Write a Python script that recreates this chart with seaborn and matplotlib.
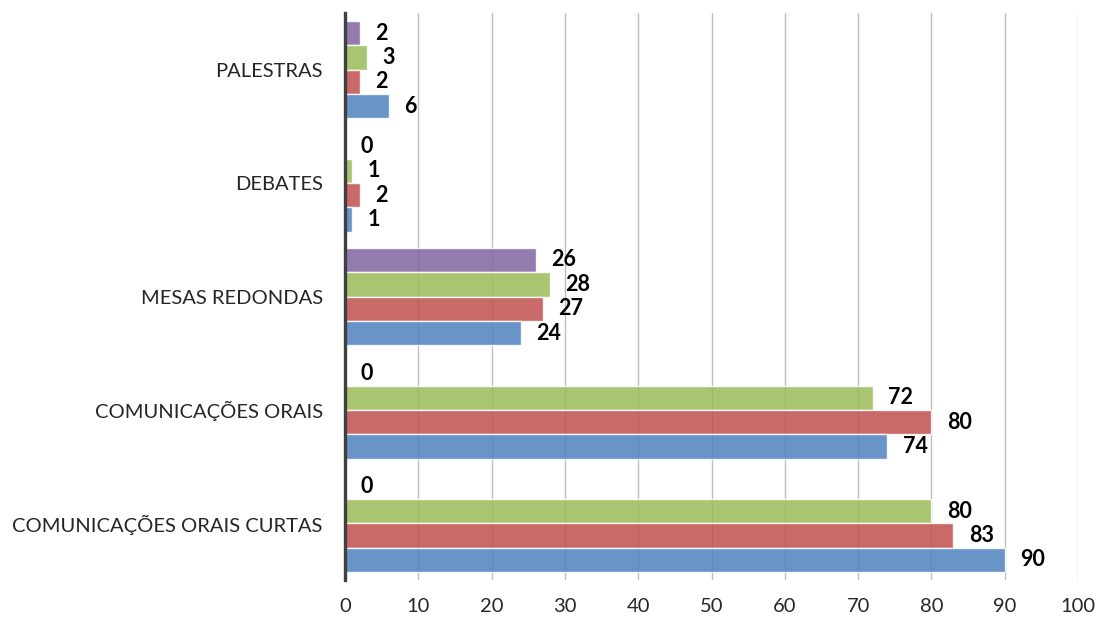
import matplotlib
matplotlib.use("Agg")
import matplotlib.pyplot as plt
import seaborn as sns
import pandas as pd

# Categories listed top to bottom
categories = ["PALESTRAS", "DEBATES", "MESAS REDONDAS",
              "COMUNICAÇÕES ORAIS", "COMUNICAÇÕES ORAIS CURTAS"]

# One list per series (same category order)
serie_1 = [6, 1, 24, 74, 90]     # blue
serie_2 = [2, 2, 27, 80, 83]     # red
serie_3 = [3, 1, 28, 72, 80]     # green
serie_4 = [2, 0, 26, 0, 0]       # purple

series_names = ["Série 1", "Série 2", "Série 3", "Série 4"]
series_colors = ["#4F81BD", "#C0504D", "#9BBB59", "#8064A2"]
x_ticks = list(range(0, 101, 10))
title = "Número de apresentações segundo a modalidade e o congresso"

rows = []
for name, vals in zip(series_names, [serie_1, serie_2, serie_3, serie_4]):
    for cat, v in zip(categories, vals):
        rows.append({"categoria": cat, "valor": v, "serie": name})
df = pd.DataFrame(rows)

sns.set_style("white")
plt.rcParams["font.family"] = ["Lato", "DejaVu Sans"]

fig = plt.figure(figsize=(11, 6.24), dpi=100)
ax = fig.add_axes([345 / 1100, 1 - 580 / 624, (1078 - 345) / 1100, (580 - 13) / 624])

# Series 1 sits at the bottom of each group, so draw hue order reversed
hue_order = series_names[::-1]
palette = dict(zip(series_names, series_colors))
sns.barplot(data=df, y="categoria", x="valor", hue="serie", hue_order=hue_order,
            order=categories, palette=palette, orient="h", width=0.86,
            saturation=1, alpha=0.85, edgecolor="white", linewidth=1.0,
            legend=False, ax=ax)

for container in ax.containers:
    ax.bar_label(container, padding=11, fontsize=15.5, fontweight="bold",
                 color="black")

ax.set_xlim(0, 100)
ax.set_xticks(x_ticks)
ax.set_xticklabels([str(t) for t in x_ticks], fontsize=14.5)
ax.set_xlabel("")
ax.set_ylabel("")
ax.tick_params(axis="y", labelsize=14.5, length=0, pad=16)
ax.tick_params(axis="x", length=0, pad=13)

ax.set_axisbelow(True)
ax.xaxis.grid(True, color="#BFBFBF", linewidth=1)
ax.yaxis.grid(False)
for side in ["top", "right", "bottom"]:
    ax.spines[side].set_visible(False)
ax.spines["left"].set_color("#404040")
ax.spines["left"].set_linewidth(2.4)

fig.text(0.646, 1 + 5 / 624, title, ha="center", va="baseline",
         fontsize=18, fontweight="bold")

fig.savefig("out.png", dpi=100)
